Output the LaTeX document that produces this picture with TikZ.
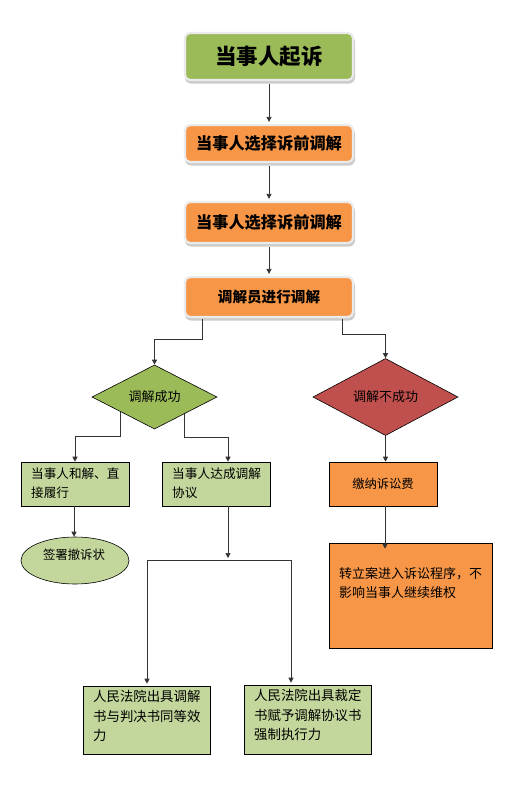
\documentclass[tikz,border=0pt]{standalone}
\usepackage{fontspec}
\newfontfamily\cjk{Noto Sans CJK SC}
\usetikzlibrary{shapes.geometric,arrows.meta,calc}
\definecolor{oliveG}{HTML}{9BBB59}
\definecolor{lightG}{HTML}{C3D69B}
\definecolor{orangeF}{HTML}{F79646}
\definecolor{redF}{HTML}{C0504D}
\definecolor{lineC}{HTML}{333333}
\tikzset{
  topbox/.style={rounded corners=5pt, draw=white!92!black, line width=2.2pt, inner sep=0pt, font=\cjk\bfseries},
  shadowbox/.style={rounded corners=6pt, fill=black!22, draw=none},
  flatbox/.style={draw=black, line width=0.6pt, inner sep=0pt},
  dia/.style={diamond, draw=black, line width=0.6pt, inner sep=0pt, font=\cjk\fontsize{13}{15}\selectfont},
  arr/.style={draw=lineC, line width=0.7pt, -{Triangle[width=5pt,length=5pt]}},
  ln/.style={draw=lineC, line width=0.7pt},
  txt/.style={anchor=north west, inner sep=0pt, align=left},
}
\begin{document}
\begin{tikzpicture}[x=1pt,y=-1pt]
\useasboundingbox (0,0) rectangle (521,803);
% shadows for rounded boxes
\foreach \cy/\h in {57/47, 144/37, 223/41, 297.5/40}{
  \fill[black!20, rounded corners=6pt] (185,\cy-\h/2+2.5) rectangle (355,\cy+\h/2+3);
}
\node[topbox, fill=oliveG, minimum width=168, minimum height=47, font=\cjk\bfseries\fontsize{21.5}{24}\selectfont] (n1) at (269,56.5) {当事人起诉};
\node[topbox, fill=orangeF, minimum width=168, minimum height=37, font=\cjk\bfseries\fontsize{16.2}{18}\selectfont] (n2) at (269,143.5) {当事人选择诉前调解};
\node[topbox, fill=orangeF, minimum width=168, minimum height=41, font=\cjk\bfseries\fontsize{16.2}{18}\selectfont] (n3) at (269,222.5) {当事人选择诉前调解};
\node[topbox, fill=orangeF, minimum width=168, minimum height=40, font=\cjk\bfseries\fontsize{14.6}{17}\selectfont] (n4) at (269,297) {调解员进行调解};

\draw[arr] (n1.south) ++(0,3) -- ([yshift=2pt]n2.north);
\draw[arr] (n2.south) ++(0,3) -- ([yshift=2pt]n3.north);
\draw[arr] (n3.south) ++(0,3) -- ([yshift=2pt]n4.north);

% diamonds
\node[dia, fill=oliveG, minimum width=125, minimum height=58] (d1) at (154.5,397) {调解成功};
\node[dia, fill=redF, minimum width=145, minimum height=62] (d2) at (385.5,397) {调解不成功};

\draw[arr] ([xshift=-67pt,yshift=-1pt]n4.south) |- ([yshift=25pt]d1.north) -- (d1.north);
\draw[arr] ([xshift=73pt,yshift=-1pt]n4.south) |- ([yshift=24pt]d2.north) -- (d2.north);

% second row boxes
\node[flatbox, fill=lightG, minimum width=108, minimum height=44] (b1) at (75,484) {};
\node[txt, font=\cjk\fontsize{12.6}{19}\selectfont] at (31,468) {当事人和解、直\\接履行};
\node[flatbox, fill=lightG, minimum width=108, minimum height=44] (b2) at (216,484) {};
\node[txt, font=\cjk\fontsize{12.7}{19}\selectfont] at (172,468) {当事人达成调解\\协议};
\node[flatbox, fill=orangeF, minimum width=108, minimum height=44, font=\cjk\fontsize{12.3}{14}\selectfont] (b3) at (383,484) {缴纳诉讼费};

\draw[arr] ($(d1.west)!0.45!(d1.south)$) |- ([yshift=25pt]b1.north) -- (b1.north);
\draw[arr] ($(d1.east)!0.53!(d1.south)$) |- ([xshift=12pt,yshift=24pt]b2.north) -- ([xshift=12pt]b2.north);
\draw[arr] (d2.south) -- (d2.south |- b3.north);

% ellipse
\node[ellipse, draw=black, line width=0.6pt, fill=lightG, minimum width=108, minimum height=47, inner sep=0pt] (e1) at (75,560.5) {};
\node[font=\cjk\fontsize{12.4}{14}\selectfont, inner sep=0pt] at (74,555) {签署撤诉状};
\draw[arr] ([xshift=-1pt]b1.south) -- ([xshift=-1pt]e1.north);

% big box
\node[flatbox, fill=orangeF, minimum width=163, minimum height=105] (b4) at (410.5,595.5) {};
\node[txt, font=\cjk\fontsize{13}{19}\selectfont] at (339,567) {转立案进入诉讼程序，不\\影响当事人继续维权};
\draw[arr] ([xshift=2pt]b3.south) -- ([xshift=2pt,yshift=-6pt]b3.south |- b4.north);

% split
\coordinate (split) at (228,560);
\coordinate (hl) at (147,560);
\coordinate (hr) at (291,560);
\draw[arr] ([xshift=12pt]b2.south) -- ([yshift=2pt]split);
\draw[ln] (hl) -- (hr);

% bottom boxes
\node[flatbox, fill=lightG, minimum width=127, minimum height=68] (b5) at (146.5,720) {};
\node[txt, font=\cjk\fontsize{13.4}{19.5}\selectfont] at (93,690) {人民法院出具调解\\书与判决书同等效\\力};
\node[flatbox, fill=lightG, minimum width=127, minimum height=69] (b6) at (307.5,719.5) {};
\node[txt, font=\cjk\fontsize{13.4}{19.5}\selectfont] at (254,689) {人民法院出具裁定\\书赋予调解协议书\\强制执行力};

\draw[arr] (hl) -- ([yshift=2pt]hl |- b5.north);
\draw[arr] (hr) -- ([yshift=2pt]hr |- b6.north);
\end{tikzpicture}
\end{document}
